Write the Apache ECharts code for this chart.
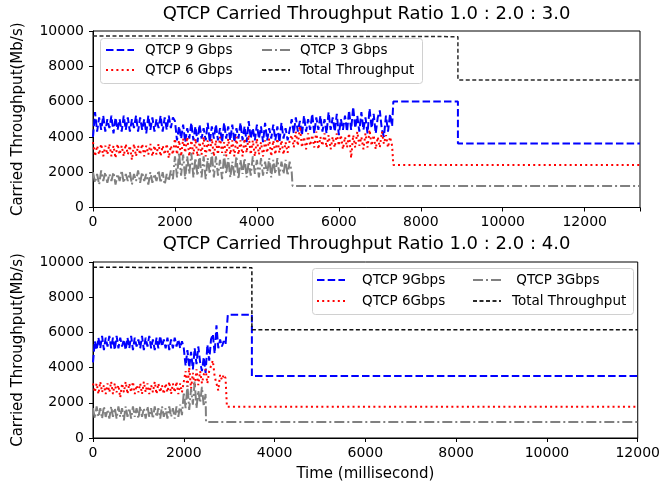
<!DOCTYPE html>
<html>
<head>
<meta charset="utf-8">
<script src="https://cdn.jsdelivr.net/npm/echarts@6/dist/echarts.min.js"></script>
<style>html,body{margin:0;padding:0;background:#fff}#c{width:663px;height:489px}</style>
</head>
<body>
<div id="c"></div>
<script>
// ---------- Data: top panel (ratio 1.0 : 2.0 : 3.0), samples every 50 ms from t = 0 ----------
const topStep = 50;
const topBlueNoise = [
  4000,5400,4300,5100,4400,5200,4300,5000,4500,5200, 4200,5100,4400,5000,4300,5200,4400,5100,4300,5000,
  4500,5200,4300,5100,4400,5000,4200,5200,4400,5100, 4300,5000,4500,5200,4300,5100,4400,5200,4500,5100,
  4900,3800,4600,3900,4700,3700,4500,3900,4800,3800, 4600,3700,4700,3900,4500,3800,4800,3700,4600,3900,
  4700,3800,4500,3700,4800,3900,4600,3800,4700,3700, 4500,3900,4800,3800,4600,3700,4900,3900,4500,3800,
  4700,3900,4600,3700,4800,3800,4500,3900,4700,3800, 4600,3700,4800,3900,4500,3800,4400,
  5000,4200,5100,4300,4900,4100,5200,4300,5000,4400, 5300,4200,5100,4400,5200,4300,5000,4200,5400,4400,
  5100,4300,5300,4100,5000,4400,5200,4300,5500,4400, 5700,4500,5200,4300,5400,4400,5100,4200,5600,4500,
  5300,4200,5100,5500,4400,4000,5200,4300,5300,4600
];
const topBlueTail = [[7330,6000],[8906,6000],[8906,3620],[13350,3620]];
const topRedNoise = [
  3700,2900,3500,3000,3600,2900,3500,3000,3600,2900, 3500,2800,3600,3000,3500,2900,3600,3000,3500,2700,
  3600,2900,3500,3000,3600,2900,3500,3000,3600,2900, 3500,3000,3600,2900,3500,3000,3600,2800,3500,3000,
  3900,3000,3800,2900,3900,3100,4000,2900,3800,3000, 3900,2900,3700,3000,4000,2900,3800,3100,3900,2900,
  3800,3000,4000,3100,3700,2900,3900,3000,3800,2900, 4000,3000,3800,2900,3900,3100,4100,3000,3800,2900,
  3900,3000,3700,2900,3800,3100,3900,2900,3800,3000, 3900,3100,3800,3000,3700,3100,3800,
  4100,3400,4300,3500,4600,3400,4000,3300,4200,3500, 4100,3400,4300,3300,4000,3500,4200,3400,4100,3300,
  4000,3400,4200,3500,4100,3300,4000,3400,4200,2800, 4100,3400,4300,3500,4000,3300,4200,3400,4400,3500,
  4100,3300,4000,3400,4300,3600,4100,3400,4000,3500
];
const topRedTail = [[7330,2410],[13350,2410]];
const topGrayNoise = [
  2000,1400,1900,1300,2100,1500,2000,1400,1900,1500, 2000,1300,1900,1500,2100,1400,1900,1500,2000,1300,
  1900,1500,2100,1400,2000,1500,1900,1300,2000,1400, 1900,1500,2100,1400,2000,1300,1900,1500,2100,1600,
  2900,1700,3100,1800,3000,1600,2900,1900,3100,1700, 2800,1800,3000,1700,2900,1600,2800,1900,3100,1700,
  2900,1800,2700,1600,3000,1900,2800,1700,2600,1800, 2900,1600,2700,1900,2800,1700,2600,1800,2900,1900,
  2700,1700,2800,1800,2600,1900,2800,1700,2700,1900, 2800,1800,2600,1900,2700,1800,2600,2000
];
const topGrayTail = [[4870,1220],[13350,1220]];
const topTotal = [[0,9720],[8906,9680],[8906,7230],[13350,7230]];

// ---------- Data: bottom panel (ratio 1.0 : 2.0 : 4.0), samples every 40 ms from t = 0 ----------
const botStep = 40;
const botBlueNoise = [
  4300,5500,5000,5700,5100,5800,5000,5700,5200,5800, 5100,5700,5000,5800,5100,5700,5200,5600,5000,5700,
  5100,5800,5000,5700,5200,5600,5100,5800,5000,5700, 5200,5800,5100,5600,5000,5700,5100,5800,5200,5600,
  5100,5700,5000,5600,5100,5700,5200,5600,5100,5500,
  5100,4100,5000,4000,4900,3900,5100,4200,5200,4300, 3800,4600,3700,5300,4400,5600,5900,4800,6400,5100,
  5600,5200,5500,5300
];
const botBlueTail = [[2970,7000],[3500,7000],[3500,3520],[12000,3520]];
const botRedNoise = [
  3100,2600,3100,2500,3200,2600,3000,2500,3100,2600, 3200,2500,3100,2600,3000,2300,3100,2600,3200,2500,
  3100,2600,3200,2500,3000,2600,3100,2500,3200,2600, 3100,2500,3000,2600,3200,2500,3100,2600,3000,2500,
  3100,2600,3200,2500,3100,2600,3200,2500,3100,2600,
  2700,3800,2900,4000,2800,3700,2900,3900,3000,3800, 3100,3600,3900,3100,3800,4100,4400,3500,3100,2700,
  3600,3300,3600,3400
];
const botRedTail = [[2950,1770],[12000,1770]];
const botGrayNoise = [
  1700,1100,1800,1200,1700,1100,1800,1200,1600,1100, 1800,1200,1700,1100,1800,1200,1700,1000,1800,1200,
  1700,1100,1800,1200,1700,1100,1800,1200,1700,1100, 1800,1200,1700,1100,1800,1200,1700,1100,1800,1200,
  1700,1100,1800,1200,1700,1100,1800,1200,1900,1300,
  2600,1700,3000,1600,2800,1900,3200,1700,2700,2000, 2900,1800,2500
];
const botGrayTail = [[2490,910],[12000,910]];
const botTotal = [[0,9700],[3500,9680],[3500,6150],[12000,6150]];

// ---------- Axes / labels ----------
const xTicksTop = {min:0, max:13350, interval:2000};
const xTicksBot = {min:0, max:12000, interval:2000};
const yTicks = {min:0, max:10000, interval:2000};
const titles = ['QTCP Carried Throughput Ratio 1.0 : 2.0 : 3.0', 'QTCP Carried Throughput Ratio 1.0 : 2.0 : 4.0'];
const yName = 'Carried Throughput(Mb/s)';
const xName = 'Time (millisecond)';
const topNames = ['QTCP 9 Gbps','QTCP 6 Gbps','QTCP 3 Gbps','Total Throughput'];
const botNames = ['QTCP 9Gbps','QTCP 6Gbps',' QTCP 3Gbps','Total Throughput'];

function build(noise, step, tail) {
  return noise.map((v, i) => [i * step, v]).concat(tail);
}

const FONT = 'DejaVu Sans';
const styles = {
  blue:  {color:'#0000ff', width:2, type:[7.5,3.2]},
  red:   {color:'#ff0000', width:2, type:[2,3.2]},
  gray:  {color:'#808080', width:2, type:[10,3,2,3]},
  black: {color:'#2a2a2a', width:1.5, type:[4,2.5]}
};

function mkSeries(name, data, st, idx) {
  return {
    type:'line', name:name, data:data, xAxisIndex:idx, yAxisIndex:idx,
    symbol:'none', showSymbol:false, animation:false, silent:true,
    lineStyle:{color:st.color, width:st.width, type:st.type},
    itemStyle:{color:st.color}
  };
}

function mkX(idx, t, withName) {
  return {
    type:'value', gridIndex:idx, min:t.min, max:t.max, interval:t.interval,
    splitLine:{show:false},
    axisLine:{show:true, onZero:false, lineStyle:{color:'#000', width:1}},
    axisTick:{show:true, length:4, lineStyle:{color:'#000'}},
    axisLabel:{color:'#000', fontSize:14, fontFamily:FONT, margin:8,
      formatter: v => (v % t.interval === 0 ? String(v) : '')},
    name: withName ? xName : '', nameLocation:'middle', nameGap:29,
    nameTextStyle:{color:'#000', fontSize:15, fontFamily:FONT}
  };
}
function mkY(idx) {
  return {
    type:'value', gridIndex:idx, min:yTicks.min, max:yTicks.max, interval:yTicks.interval,
    splitLine:{show:false},
    axisLine:{show:true, onZero:false, lineStyle:{color:'#000', width:1}},
    axisTick:{show:true, length:4, lineStyle:{color:'#000'}},
    axisLabel:{color:'#000', fontSize:14, fontFamily:FONT, margin:9, formatter: v => String(v)},
    name: yName, nameLocation:'middle', nameGap:67, nameRotate:90,
    nameTextStyle:{color:'#000', fontSize:15, fontFamily:FONT}
  };
}
function mkLegend(names, left, top, gap, pad) {
  return {
    show:true, orient:'vertical', left:left, top:top, itemGap:gap, padding:0,
    itemWidth:28, itemHeight:16, selectedMode:false, data:names, z:5,
    itemStyle:{opacity:0, borderWidth:0},
    textStyle:{color:'#000', fontSize:13.5, fontFamily:FONT, lineHeight:16, padding:[0,0,0,pad]}
  };
}

const chart = echarts.init(document.getElementById('c'), null, {renderer:'canvas'});
chart.setOption({
  animation:false,
  backgroundColor:'#fff',
  grid:[
    {left:93, top:31, width:547, height:176.5, show:true, borderColor:'#000', borderWidth:1, backgroundColor:'transparent'},
    {left:93, top:262, width:547, height:176, show:true, borderColor:'#000', borderWidth:1, backgroundColor:'transparent'}
  ],
  xAxis:[mkX(0, xTicksTop, false), mkX(1, xTicksBot, true)],
  yAxis:[mkY(0), mkY(1)],
  legend:[
    mkLegend([topNames[0], topNames[1]], 105, 42, 4, 6),
    mkLegend([topNames[2], topNames[3]], 261, 42, 4, 5),
    mkLegend([botNames[0], botNames[1]], 316, 272, 5, 12),
    mkLegend([botNames[2], botNames[3]], 472, 272, 5, 6)
  ],
  graphic:[
    {type:'text', x:366.5, y:14, z:10, style:{text:titles[0], fill:'#000', fontSize:18, fontFamily:FONT, textAlign:'center', textVerticalAlign:'middle'}},
    {type:'text', x:366.5, y:244, z:10, style:{text:titles[1], fill:'#000', fontSize:18, fontFamily:FONT, textAlign:'center', textVerticalAlign:'middle'}},
    {type:'rect', z:3, shape:{x:100.5, y:38.5, width:322, height:45, r:3}, style:{fill:'rgba(255,255,255,0.8)', stroke:'#d0d0d0', lineWidth:1}},
    {type:'rect', z:3, shape:{x:312.5, y:268.5, width:321, height:46, r:3}, style:{fill:'rgba(255,255,255,0.8)', stroke:'#d0d0d0', lineWidth:1}}
  ],
  series:[
    mkSeries(topNames[0], build(topBlueNoise, topStep, topBlueTail), styles.blue, 0),
    mkSeries(topNames[1], build(topRedNoise, topStep, topRedTail), styles.red, 0),
    mkSeries(topNames[2], build(topGrayNoise, topStep, topGrayTail), styles.gray, 0),
    mkSeries(topNames[3], topTotal, styles.black, 0),
    mkSeries(botNames[0], build(botBlueNoise, botStep, botBlueTail), styles.blue, 1),
    mkSeries(botNames[1], build(botRedNoise, botStep, botRedTail), styles.red, 1),
    mkSeries(botNames[2], build(botGrayNoise, botStep, botGrayTail), styles.gray, 1),
    mkSeries(botNames[3], botTotal, {color:'#111', width:1.5, type:[4,2.5]}, 1)
  ]
});
</script>
</body>
</html>
